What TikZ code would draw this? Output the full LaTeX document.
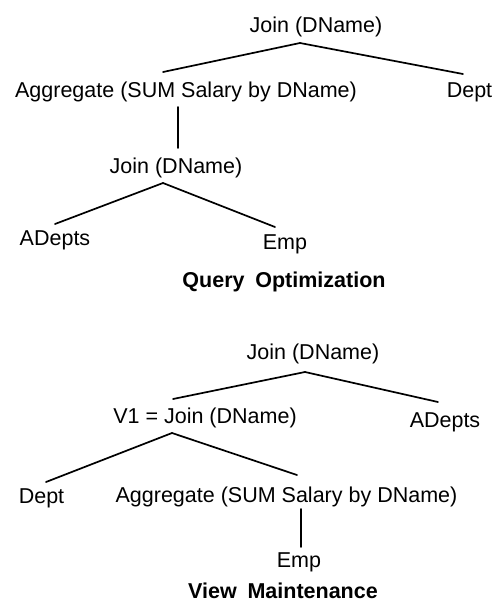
\documentclass[tikz,border=0pt]{standalone}
\usepackage{fontspec}
\setmainfont{Liberation Sans}
\usepackage{tikz}
\usetikzlibrary{calc}
\usetikzlibrary{graphs}
\tikzset{
	lbl/.style={anchor=base, inner sep=0pt, font=\fontsize{21.5}{26}\selectfont},
	caption/.style={lbl, font=\fontsize{21.5}{26}\selectfont\bfseries},
	branch/.style={line width=1.7pt, line cap=round}
}

\begin{document}
\begin{tikzpicture}[x=1pt, y=-1pt]
			\useasboundingbox (0,0) rectangle (493,603);
			% query optimization tree
			\graph[no placement, nodes={lbl}]{
				qjoin/{Join (DName)}[at={(316,32)}];
				qagg/{Aggregate (SUM Salary by DName)}[at={(186,97)}];
				qdept/{Dept}[at={(469.5,97)}];
				qjoinb/{Join (DName)}[at={(176,173)}];
				qadepts/{ADepts}[at={(55,245)}];
				qemp/{Emp}[at={(285,249)}];
				qcap/{Query\hspace{0.5em}Optimization}[caption, at={(284,287)}];
			};
			\draw[branch] ($(qjoin.base)+(-16,11)$) -- ($(qagg.base)+(-23,-25)$);
			\draw[branch] ($(qjoin.base)+(-16,11)$) -- ($(qdept.base)+(-6.5,-23)$);
			\draw[branch] ($(qagg.base)+(-8,10)$) -- ($(qjoinb.base)+(2,-25)$);
			\draw[branch] ($(qjoinb.base)+(-13,10)$) -- ($(qadepts.base)+(0,-21)$);
			\draw[branch] ($(qjoinb.base)+(-13,10)$) -- ($(qemp.base)+(-10,-22)$);

			% view maintenance tree
			\graph[no placement, nodes={lbl}]{
				vjoin/{Join (DName)}[at={(313,359)}];
				vone/{V1 = Join (DName)}[at={(205,423)}];
				vadepts/{ADepts}[at={(445,427)}];
				vdept/{Dept}[at={(41.5,503)}];
				vagg/{Aggregate (SUM Salary by DName)}[at={(286.5,502)}];
				vemp/{Emp}[at={(299,567)}];
				vcap/{View\hspace{0.5em}Maintenance}[caption, at={(283,598.5)}];
			};
			\draw[branch] ($(vjoin.base)+(-8,13)$) -- ($(vone.base)+(-32,-24)$);
			\draw[branch] ($(vjoin.base)+(-8,13)$) -- ($(vadepts.base)+(-7,-25)$);
			\draw[branch] ($(vone.base)+(-33,10)$) -- ($(vdept.base)+(4.5,-21)$);
			\draw[branch] ($(vone.base)+(-33,10)$) -- ($(vagg.base)+(10.5,-27)$);
			\draw[branch] ($(vagg.base)+(14.5,7)$) -- ($(vemp.base)+(2,-20)$);
		\end{tikzpicture}
\end{document}
